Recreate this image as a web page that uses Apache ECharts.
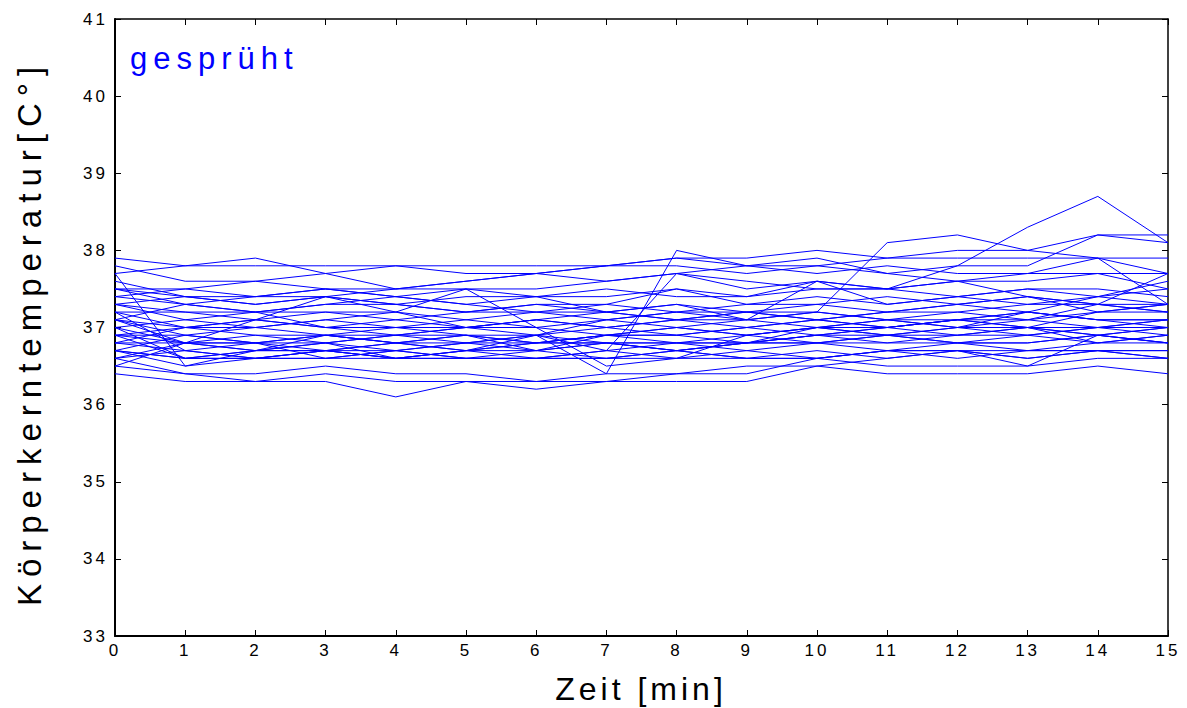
<!DOCTYPE html>
<html>
<head>
<meta charset="utf-8">
<script src="https://cdn.jsdelivr.net/npm/echarts@6/dist/echarts.min.js"></script>
<style>
  html, body { margin: 0; padding: 0; background: #fff; }
  #chart { width: 1187px; height: 708px; }
</style>
</head>
<body>
<div id="chart"></div>
<script>
// Time points (minutes)
const minutes = [0,1,2,3,4,5,6,7,8,9,10,11,12,13,14,15];

// Core body temperature per subject (°C), one value per minute
const temp01 = [37.9,37.8,37.8,37.8,37.8,37.8,37.8,37.8,37.9,37.9,38.0,37.9,37.9,37.9,37.9,37.9];
const temp02 = [37.7,37.8,37.9,37.7,37.5,37.6,37.7,37.8,37.9,37.8,37.8,37.9,38.0,38.0,37.9,37.7];
const temp03 = [37.5,37.5,37.4,37.5,37.5,37.6,37.7,37.6,37.7,37.6,37.5,37.5,37.8,38.3,38.7,38.1];
const temp04 = [37.3,37.2,37.2,37.3,37.3,37.2,37.2,37.2,37.3,37.2,37.2,38.1,38.2,38.0,38.2,38.2];
const temp05 = [37.4,37.5,37.6,37.5,37.4,37.5,37.5,37.6,37.7,37.8,37.7,37.8,37.7,37.7,37.9,37.3];
const temp06 = [36.9,36.8,36.8,36.7,36.8,36.8,36.9,36.4,38.0,37.8,37.9,37.7,37.8,37.8,38.2,38.1];
const temp07 = [37.0,37.1,37.0,37.1,37.2,37.5,37.0,36.5,36.6,36.9,37.0,37.0,37.1,37.0,37.2,37.3];
const temp08 = [36.5,36.8,37.1,37.4,37.2,37.0,36.9,36.7,37.7,37.5,37.6,37.3,37.4,37.5,37.4,37.6];
const temp09 = [36.6,36.4,36.3,36.3,36.1,36.3,36.2,36.3,36.4,36.5,36.5,36.6,36.7,36.6,36.7,36.6];
const temp10 = [36.4,36.3,36.3,36.4,36.3,36.3,36.3,36.3,36.3,36.3,36.5,36.4,36.4,36.4,36.5,36.4];
const temp11 = [36.5,36.4,36.4,36.5,36.4,36.4,36.3,36.4,36.4,36.4,36.6,36.5,36.5,36.5,36.6,36.6];
const temp12 = [36.7,36.5,36.6,36.6,36.6,36.6,36.6,36.7,36.6,36.7,36.6,36.7,36.7,36.5,36.9,37.0];
const temp13 = [37.0,36.6,36.6,36.7,36.6,36.7,36.7,36.6,36.7,36.6,36.6,36.7,36.6,36.7,36.7,36.7];
const temp14 = [37.1,37.3,37.2,37.3,37.4,37.3,37.2,37.3,37.2,37.3,37.3,37.4,37.3,37.2,37.4,37.5];
const temp15 = [37.2,37.0,36.9,36.8,36.9,37.0,37.1,37.0,37.1,37.2,37.1,37.2,37.3,37.4,37.3,37.3];
const temp16 = [37.3,37.1,37.2,37.0,36.9,36.8,36.8,36.9,36.8,36.8,36.9,37.0,36.9,36.9,37.0,36.9];
const temp17 = [36.8,36.7,36.6,36.7,36.7,36.6,36.7,36.8,36.7,36.8,36.8,36.8,36.8,36.9,36.8,36.8];
const temp18 = [36.7,36.9,36.8,36.9,36.8,36.9,36.8,36.9,36.9,36.8,36.9,36.9,37.0,36.9,37.0,37.0];
const temp19 = [37.2,36.7,36.8,36.6,36.7,36.8,36.9,37.0,36.9,37.0,37.1,37.0,37.1,37.2,37.1,37.0];
const temp20 = [36.9,37.0,37.1,37.0,37.0,37.1,37.0,37.1,37.2,37.1,37.0,37.1,37.2,37.1,37.3,37.2];
const temp21 = [37.6,37.4,37.3,37.4,37.3,37.4,37.4,37.5,37.4,37.4,37.5,37.5,37.4,37.5,37.5,37.4];
const temp22 = [37.3,37.4,37.4,37.5,37.4,37.3,37.4,37.4,37.5,37.3,37.4,37.3,37.4,37.3,37.4,37.3];
const temp23 = [37.1,36.9,36.8,36.8,36.9,36.9,36.8,36.8,36.8,36.9,36.8,36.9,36.8,36.8,36.9,36.8];
const temp24 = [36.8,36.8,36.7,36.8,36.7,36.8,36.7,36.8,36.8,36.7,36.8,36.7,36.8,36.7,36.8,36.9];
const temp25 = [36.6,36.7,36.6,36.7,36.6,36.6,36.6,36.6,36.7,36.6,36.7,36.6,36.7,36.6,36.7,36.7];
const temp26 = [37.0,36.8,36.7,36.9,36.8,36.7,36.8,36.9,37.0,36.9,37.0,37.1,37.0,37.2,37.1,37.1];
const temp27 = [37.2,37.2,37.1,37.2,37.2,37.1,37.2,37.1,37.2,37.2,37.3,37.2,37.2,37.3,37.3,37.2];
const temp28 = [36.9,36.6,36.7,36.8,36.6,36.7,36.6,36.7,36.8,36.8,37.0,36.9,36.9,37.0,36.8,36.9];
const temp29 = [37.4,37.3,37.4,37.4,37.3,37.2,37.3,37.3,37.5,37.4,37.6,37.5,37.6,37.6,37.7,37.5];
const temp30 = [37.5,37.4,37.3,37.4,37.5,37.5,37.4,37.2,37.3,37.1,37.6,37.5,37.6,37.4,37.3,37.7];
const temp31 = [37.8,37.6,37.6,37.7,37.8,37.7,37.7,37.8,37.8,37.7,37.8,37.7,37.6,37.7,37.7,37.7];
const temp32 = [36.8,37.0,37.1,37.0,37.1,37.0,37.1,37.0,37.1,37.0,37.1,37.0,37.1,37.1,37.0,37.1];
const temp33 = [37.7,36.5,36.7,36.7,36.8,36.7,36.9,36.8,36.7,36.8,36.9,36.8,36.9,37.0,36.9,36.8];
const temp34 = [36.6,36.8,36.8,36.9,36.8,36.9,36.7,36.9,36.9,37.0,36.9,37.0,37.1,37.0,37.0,37.1];
const temp35 = [37.1,36.8,36.9,36.9,37.0,36.9,36.9,37.1,37.0,37.1,37.2,37.1,37.0,37.1,37.2,37.2];
const temp36 = [36.7,36.6,36.7,36.7,36.6,36.7,36.8,36.8,36.7,36.8,36.8,36.9,36.8,36.8,36.9,36.8];
const temp37 = [37.5,37.3,37.2,37.2,37.1,37.2,37.3,37.2,37.1,37.2,37.1,37.2,37.3,37.4,37.2,37.3];
const temp38 = [36.9,36.9,37.0,36.9,36.9,37.0,37.0,36.9,37.0,36.9,37.0,36.9,37.0,37.0,36.9,37.0];
const temp39 = [36.7,36.6,36.6,36.6,36.7,36.6,36.6,36.6,36.6,36.6,36.6,36.7,36.7,36.7,36.7,36.6];
const temp40 = [37.1,37.0,37.0,37.1,37.0,37.0,37.1,37.2,37.1,37.1,37.2,37.1,37.1,37.2,37.1,37.1];

const subjects = [
  temp01,temp02,temp03,temp04,temp05,temp06,temp07,temp08,temp09,temp10,
  temp11,temp12,temp13,temp14,temp15,temp16,temp17,temp18,temp19,temp20,
  temp21,temp22,temp23,temp24,temp25,temp26,temp27,temp28,temp29,temp30,
  temp31,temp32,temp33,temp34,temp35,temp36,temp37,temp38,temp39,temp40
];

const yTicks = { min: 33, max: 41, step: 1 };
const xTicks = { min: 0, max: 15, step: 1 };

const titleText = 'gesprüht';
const xName = 'Zeit [min]';
const yName = 'Körperkerntemperatur[C°]';

const FONT = '"Liberation Sans", Arial, Helvetica, sans-serif';
const LINE_BLUE = '#0000ff';

const chart = echarts.init(document.getElementById('chart'), null, { renderer: 'svg' });

function axisBase(extra) {
  return Object.assign({
    type: 'value',
    splitLine: { show: false },
    axisLine: { show: true, onZero: false, lineStyle: { color: '#000', width: 1.5 } },
    axisTick: { show: true, inside: true, length: 6, lineStyle: { color: '#000', width: 1 } }
  }, extra);
}

const option = {
  animation: false,
  backgroundColor: '#fff',
  grid: { left: 115, right: 19, top: 19, bottom: 72, containLabel: false },
  xAxis: [
    axisBase({
      position: 'bottom', min: xTicks.min, max: xTicks.max, interval: xTicks.step,
      axisLine: { show: true, onZero: false, lineStyle: { color: '#000', width: 2 } },
      axisLabel: { color: '#000', fontSize: 17, fontFamily: FONT, margin: 6 }
    }),
    axisBase({
      position: 'top', min: xTicks.min, max: xTicks.max, interval: xTicks.step,
      axisLabel: { show: false }
    })
  ],
  yAxis: [
    axisBase({
      position: 'left', min: yTicks.min, max: yTicks.max, interval: yTicks.step,
      axisLine: { show: true, onZero: false, lineStyle: { color: '#000', width: 2 } },
      axisLabel: { color: '#000', fontSize: 17, fontFamily: FONT, margin: 7 }
    }),
    axisBase({
      position: 'right', min: yTicks.min, max: yTicks.max, interval: yTicks.step,
      axisLabel: { show: false }
    })
  ],
  graphic: [
    {
      type: 'text', left: 130, top: 43,
      style: { text: titleText, fill: LINE_BLUE, font: '31px ' + FONT }
    },
    {
      type: 'text', x: 641, y: 689,
      style: { text: xName, fill: '#000', font: '32px ' + FONT, align: 'center', verticalAlign: 'middle' }
    },
    {
      type: 'text', x: 29, y: 333, rotation: Math.PI / 2,
      style: { text: yName, fill: '#000', font: '33px ' + FONT, align: 'center', verticalAlign: 'middle' }
    }
  ],
  series: subjects.map((vals, i) => ({
    name: 'P' + (i + 1),
    type: 'line',
    xAxisIndex: 0,
    yAxisIndex: 0,
    data: minutes.map((m, k) => [m, vals[k]]),
    showSymbol: false,
    symbol: 'none',
    silent: true,
    clip: true,
    lineStyle: { color: LINE_BLUE, width: 1 }
  }))
};

chart.setOption(option);
chart.getZr().refreshImmediately();

// Widen the tracking of the labels to the typeface's spread-out look
function spaceText() {
  const texts = document.querySelectorAll('#chart text');
  texts.forEach(t => {
    const s = t.textContent;
    let sp = null;
    if (s === yName) sp = 7;
    else if (s === xName) sp = 4;
    else if (s === titleText) sp = 6;
    else if (/^\d+$/.test(s)) sp = 3;
    if (sp !== null) t.setAttribute('letter-spacing', sp + 'px');
  });
}
spaceText();
chart.on('finished', spaceText);
</script>
</body>
</html>
